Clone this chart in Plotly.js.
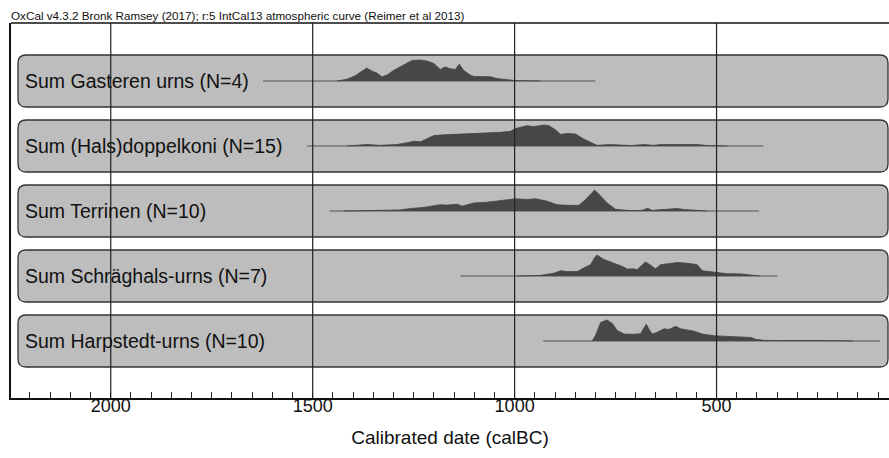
<!DOCTYPE html>
<html>
<head>
<meta charset="utf-8">
<script src="https://cdn.plot.ly/plotly-3.0.1.min.js"></script>
<style>html,body{margin:0;padding:0;background:#fff;}#chart{width:889px;height:458px;}</style>
</head>
<body>
<div id="chart"></div>
<script>
// ---- data (calBC, relative probability) ----
const categories = ["Sum Gasteren urns (N=4)", "Sum (Hals)doppelkoni (N=15)", "Sum Terrinen (N=10)", "Sum Schräghals-urns (N=7)", "Sum Harpstedt-urns (N=10)"];
const rangeStart = [1623, 1514, 1458, 1134, 929];
const rangeEnd = [800, 384, 395, 349, 95];
const tickLabels = [2000, 1500, 1000, 500];

const gasterenYears = [1440,1415,1395,1378,1366,1353,1341,1329,1316,1300,1283,1266,1254,1233,1217,1200,1184,1172,1159,1147,1137,1126,1110,1101,1085,1060,1044,1019,998,961,936];
const gasterenProb  = [0,0.08,0.25,0.47,0.62,0.47,0.38,0.2,0.28,0.5,0.67,0.83,0.98,1.0,0.95,0.83,0.55,0.67,0.58,0.55,0.8,0.5,0.28,0.22,0.22,0.2,0.12,0.07,0.02,0.01,0];

const doppelkoniYears = [1415,1366,1333,1291,1262,1250,1233,1213,1200,1176,1151,1130,1110,1068,1035,1010,998,969,953,928,915,899,886,870,849,829,808,796,763,738,713,680,655,639,548,523,498,473];
const doppelkoniProb  = [0,0.07,0.03,0.07,0.17,0.23,0.2,0.37,0.5,0.53,0.55,0.57,0.6,0.63,0.65,0.7,0.83,0.97,0.92,1.0,0.97,0.77,0.55,0.6,0.57,0.33,0.13,0.03,0.07,0.03,0.02,0.07,0.03,0.07,0.07,0.02,0.01,0];

const terrinenYears = [1424,1349,1283,1258,1225,1200,1184,1167,1142,1130,1101,1068,1044,1019,998,969,948,920,895,870,841,824,802,787,771,750,713,684,671,659,639,622,597,581,556,540,523];
const terrinenProb  = [0,0.03,0.05,0.12,0.17,0.25,0.3,0.28,0.32,0.23,0.38,0.42,0.47,0.52,0.58,0.55,0.58,0.47,0.3,0.27,0.27,0.55,1.0,0.72,0.38,0.08,0.02,0.03,0.13,0.03,0.05,0.07,0.12,0.07,0.05,0.02,0];

const schraeghalsYears = [994,936,903,886,870,845,829,812,802,796,779,754,734,721,705,697,684,676,663,651,639,614,597,572,548,535,515,498,473,440,415,403,391];
const schraeghalsProb  = [0,0.03,0.13,0.25,0.21,0.21,0.38,0.54,0.87,1.0,0.79,0.62,0.46,0.33,0.34,0.3,0.54,0.67,0.51,0.34,0.54,0.59,0.64,0.61,0.54,0.25,0.21,0.15,0.11,0.1,0.07,0.02,0];

const harpstedtYears = [808,800,787,771,758,746,729,705,688,680,674,668,659,647,630,618,601,589,577,556,535,506,473,415,403,383,341,283,216,162];
const harpstedtProb  = [0,0.25,0.88,1.0,0.83,0.5,0.33,0.32,0.35,0.62,0.8,0.58,0.33,0.42,0.58,0.55,0.7,0.58,0.55,0.47,0.33,0.25,0.22,0.17,0.08,0.03,0.02,0.03,0.02,0];

const seriesYears = [gasterenYears, doppelkoniYears, terrinenYears, schraeghalsYears, harpstedtYears];
const seriesProb = [gasterenProb, doppelkoniProb, terrinenProb, schraeghalsProb, harpstedtProb];

// ---- layout geometry (pixels) ----
const L = 11, T = 23, W = 878, H = 375, B = T + H;
const boxTopPx = [55, 120, 185, 250, 315];
const boxH = 52, baseOff = 26, peakH = 21;
const boxLeftPx = 18, boxRightPx = 888, rad = 8;
const font = "Liberation Sans, Arial, Helvetica, sans-serif";

const yv = py => B - py; // y-axis units are pixels from the bottom
const px2x = px => (px - L) / W;

const traces = [];
const shapes = [];
const annotations = [];

categories.forEach((name, i) => {
  const base = yv(boxTopPx[i] + baseOff);
  const x0 = px2x(boxLeftPx), x1 = px2x(boxRightPx);
  const rx = rad / W;
  const y0 = (B - (boxTopPx[i] + boxH)) / H, y1 = (B - boxTopPx[i]) / H;
  const ry = rad / H;
  const p = `M${x0+rx},${y0} L${x1-rx},${y0} Q${x1},${y0} ${x1},${y0+ry} L${x1},${y1-ry} Q${x1},${y1} ${x1-rx},${y1} L${x0+rx},${y1} Q${x0},${y1} ${x0},${y1-ry} L${x0},${y0+ry} Q${x0},${y0} ${x0+rx},${y0} Z`;
  shapes.push({type: 'path', xref: 'paper', yref: 'paper', path: p, fillcolor: '#bdbdbd', line: {color: '#333', width: 1.3}, layer: 'below'});
  traces.push({x: [rangeStart[i], rangeEnd[i]], y: [base, base], mode: 'lines', line: {color: '#555', width: 1}, hoverinfo: 'skip', showlegend: false});
  traces.push({x: seriesYears[i], y: seriesProb[i].map(v => base + v * peakH), mode: 'lines', fill: 'toself', fillcolor: '#474747', line: {color: '#444', width: 0.8, shape: 'linear'}, hoverinfo: 'skip', showlegend: false});
  annotations.push({xref: 'paper', yref: 'y', x: px2x(23), y: yv(boxTopPx[i] + boxH / 2), xanchor: 'left', yanchor: 'middle', text: name, showarrow: false, font: {family: font, size: 19.5, color: '#111'}});
});

tickLabels.forEach(v => {
  shapes.push({type: 'line', xref: 'x', yref: 'paper', x0: v, x1: v, y0: 0, y1: 1, line: {color: '#222', width: 1.2}, layer: 'above'});
});
shapes.push({type: 'line', xref: 'paper', yref: 'paper', x0: 0, x1: 1, y0: 1, y1: 1, line: {color: '#111', width: 1.6}, layer: 'above'});

const layout = {
  width: 889, height: 458,
  margin: {l: L, r: 889 - L - W, t: T, b: 458 - B, pad: 0},
  paper_bgcolor: '#fff', plot_bgcolor: 'rgba(0,0,0,0)',
  showlegend: false,
  title: {text: 'OxCal v4.3.2 Bronk Ramsey (2017); r:5 IntCal13 atmospheric curve (Reimer et al 2013)', x: 11 / 889, xanchor: 'left', xref: 'container', y: 1 - 16 / 458, yanchor: 'middle', yref: 'container', font: {family: font, size: 11.7, color: '#111'}},
  xaxis: {
    range: [2247, 73], showgrid: false, zeroline: false,
    showline: true, linecolor: '#111', linewidth: 1.6,
    tickmode: 'array', tickvals: tickLabels, ticktext: tickLabels.map(String),
    ticks: 'inside', ticklen: 6, tickcolor: '#222', tickwidth: 1,
    ticklabelstandoff: -9,
    minor: {tickmode: 'linear', tick0: 0, dtick: 50, ticks: 'inside', ticklen: 6, tickcolor: '#222', tickwidth: 1, showgrid: false},
    tickfont: {family: font, size: 18, color: '#111'},
    title: {text: 'Calibrated date (calBC)', font: {family: font, size: 19, color: '#111'}, standoff: 15}
  },
  yaxis: {
    range: [0, H], showgrid: false, zeroline: false, showticklabels: false, ticks: '',
    showline: true, linecolor: '#111', linewidth: 1.6, fixedrange: true
  },
  shapes: shapes,
  annotations: annotations
};

Plotly.newPlot('chart', traces, layout, {staticPlot: true, displayModeBar: false});
</script>
</body>
</html>
